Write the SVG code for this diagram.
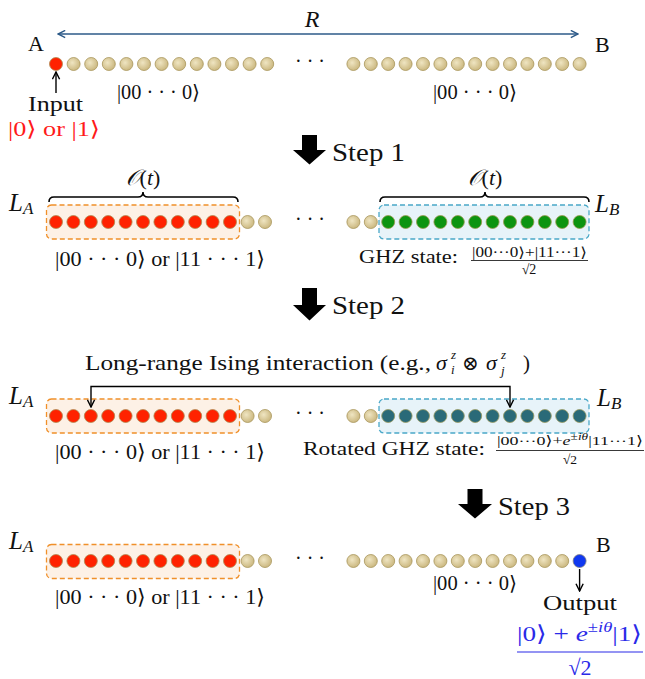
<svg xmlns="http://www.w3.org/2000/svg" width="645" height="679" viewBox="0 0 645 679">
<defs>
<radialGradient id="gTan" cx="0.4" cy="0.4" r="0.65">
<stop offset="0" stop-color="#efe5c2"/>
<stop offset="1" stop-color="#c9b57c"/>
</radialGradient>
<marker id="mR" viewBox="0 0 10 10" refX="9" refY="5" markerWidth="9" markerHeight="9" markerUnits="userSpaceOnUse" orient="auto-start-reverse">
<path d="M1,1 L9,5 L1,9" fill="none" stroke="#2d5a88" stroke-width="1.6"/>
</marker>
<marker id="mK" viewBox="0 0 10 10" refX="9" refY="5" markerWidth="9" markerHeight="9" markerUnits="userSpaceOnUse" orient="auto-start-reverse">
<path d="M1,1 L9,5 L1,9" fill="none" stroke="#000" stroke-width="1.6"/>
</marker>
</defs>
<style>
text{font-family:"Liberation Serif","DejaVu Serif",serif;fill:#111}
.it{font-style:italic}
.c{text-anchor:middle}
.tan{fill:url(#gTan);stroke:#a8955a;stroke-width:0.8}
.red{fill:#ff2200;stroke:#b08a50;stroke-width:0.8}
.grn{fill:#0c9410;stroke:#9a9a50;stroke-width:0.8}
.teal{fill:#2a6a78;stroke:#9a9a60;stroke-width:0.8}
.blu{fill:#1038f0;stroke:#808080;stroke-width:0.8}
.obox{fill:#fdf1e6;stroke:#f0902a;stroke-width:1.3;stroke-dasharray:5 3}
.bbox{fill:#e7f3f9;stroke:#4aa8c8;stroke-width:1.3;stroke-dasharray:5 3}
.br{fill:none;stroke:#000;stroke-width:1.6}
.con{fill:none;stroke:#000;stroke-width:1.4}
.step{fill:#000}
.bl{fill:#2a2ae8}
</style>

<g id="labels-top">
<text x="28" y="51" font-size="22">A</text>
<text x="595" y="52" font-size="22">B</text>
<text x="312" y="27" font-size="24" class="it c">R</text>
<text x="28" y="111" font-size="21" textLength="55" lengthAdjust="spacingAndGlyphs">Input</text>
<text x="8" y="136" font-size="21" style="fill:#ff1a1a" textLength="92" lengthAdjust="spacingAndGlyphs">|0⟩ or |1⟩</text>
<text x="117" y="99" font-size="20" textLength="83" lengthAdjust="spacingAndGlyphs">|00 · · · 0⟩</text>
<text x="433" y="99" font-size="20" textLength="84" lengthAdjust="spacingAndGlyphs">|00 · · · 0⟩</text>
<text x="310" y="68" font-size="20" class="c">· · ·</text>
</g>

<g id="row1">
<circle class="red" cx="56" cy="64" r="6.5"/>
<circle class="tan" cx="73.6" cy="64" r="6.5"/><circle class="tan" cx="91.2" cy="64" r="6.5"/><circle class="tan" cx="108.8" cy="64" r="6.5"/><circle class="tan" cx="126.4" cy="64" r="6.5"/><circle class="tan" cx="144" cy="64" r="6.5"/><circle class="tan" cx="161.6" cy="64" r="6.5"/><circle class="tan" cx="179.2" cy="64" r="6.5"/><circle class="tan" cx="196.8" cy="64" r="6.5"/><circle class="tan" cx="214.4" cy="64" r="6.5"/><circle class="tan" cx="232" cy="64" r="6.5"/><circle class="tan" cx="249.6" cy="64" r="6.5"/><circle class="tan" cx="267.2" cy="64" r="6.5"/>
<circle class="tan" cx="353.4" cy="64" r="6.5"/><circle class="tan" cx="370.8" cy="64" r="6.5"/><circle class="tan" cx="388.2" cy="64" r="6.5"/><circle class="tan" cx="405.6" cy="64" r="6.5"/><circle class="tan" cx="423" cy="64" r="6.5"/><circle class="tan" cx="440.4" cy="64" r="6.5"/><circle class="tan" cx="457.8" cy="64" r="6.5"/><circle class="tan" cx="475.2" cy="64" r="6.5"/><circle class="tan" cx="492.6" cy="64" r="6.5"/><circle class="tan" cx="510" cy="64" r="6.5"/><circle class="tan" cx="527.4" cy="64" r="6.5"/><circle class="tan" cx="544.8" cy="64" r="6.5"/><circle class="tan" cx="562.2" cy="64" r="6.5"/><circle class="tan" cx="579.6" cy="64" r="6.5"/>
</g>

<g id="step1">
<polygon class="step" points="302,135 317,135 317,150 326,150 309.5,164.5 293,150 302,150"/>
<text x="332" y="161" font-size="25" textLength="73" lengthAdjust="spacingAndGlyphs">Step 1</text>
</g>

<g id="row2">
<rect class="obox" x="46.5" y="205" width="193" height="34" rx="5"/>
<rect class="bbox" x="379" y="205" width="210" height="34" rx="5"/>
<path class="br" d="M49,202 Q49,197 54,197 H138 Q143,197 143,192 Q143,197 148,197 H233 Q238,197 238,202"/>
<path class="br" d="M380,202 Q380,197 385,197 H480 Q485,197 485,192 Q485,197 490,197 H584 Q589,197 589,202"/>
<text x="143" y="185" font-size="22" class="c"><tspan class="it">𝒪</tspan>(<tspan class="it">t</tspan>)</text>
<text x="485" y="185" font-size="22" class="c"><tspan class="it">𝒪</tspan>(<tspan class="it">t</tspan>)</text>
<text x="9" y="211" font-size="25" class="it">L<tspan font-size="17" dy="3">A</tspan></text>
<text x="595" y="212" font-size="25" class="it">L<tspan font-size="17" dy="3">B</tspan></text>
<circle class="red" cx="56" cy="222" r="6.5"/><circle class="red" cx="73.4" cy="222" r="6.5"/><circle class="red" cx="90.8" cy="222" r="6.5"/><circle class="red" cx="108.2" cy="222" r="6.5"/><circle class="red" cx="125.6" cy="222" r="6.5"/><circle class="red" cx="143" cy="222" r="6.5"/><circle class="red" cx="160.4" cy="222" r="6.5"/><circle class="red" cx="177.8" cy="222" r="6.5"/><circle class="red" cx="195.2" cy="222" r="6.5"/><circle class="red" cx="212.6" cy="222" r="6.5"/><circle class="red" cx="230" cy="222" r="6.5"/>
<circle class="tan" cx="247.6" cy="222" r="6.5"/><circle class="tan" cx="265" cy="222" r="6.5"/>
<text x="310" y="226" font-size="20" class="c">· · ·</text>
<circle class="tan" cx="353.4" cy="222" r="6.5"/><circle class="tan" cx="370.8" cy="222" r="6.5"/>
<circle class="grn" cx="388.2" cy="222" r="6.5"/><circle class="grn" cx="405.6" cy="222" r="6.5"/><circle class="grn" cx="423" cy="222" r="6.5"/><circle class="grn" cx="440.4" cy="222" r="6.5"/><circle class="grn" cx="457.8" cy="222" r="6.5"/><circle class="grn" cx="475.2" cy="222" r="6.5"/><circle class="grn" cx="492.6" cy="222" r="6.5"/><circle class="grn" cx="510" cy="222" r="6.5"/><circle class="grn" cx="527.4" cy="222" r="6.5"/><circle class="grn" cx="544.8" cy="222" r="6.5"/><circle class="grn" cx="562.2" cy="222" r="6.5"/><circle class="grn" cx="579.6" cy="222" r="6.5"/>
<text x="55" y="266" font-size="21" textLength="210" lengthAdjust="spacingAndGlyphs">|00 · · · 0⟩ or |11 · · · 1⟩</text>
<text x="359" y="263" font-size="18" textLength="99" lengthAdjust="spacingAndGlyphs">GHZ state:</text>
<text x="472" y="257" font-size="14" textLength="115" lengthAdjust="spacingAndGlyphs">|00···0⟩+|11···1⟩</text>
<line x1="471" y1="260.5" x2="588" y2="260.5" stroke="#222" stroke-width="0.9"/>
<text x="529" y="274" font-size="14" class="c">√2</text>
</g>

<g id="step2">
<polygon class="step" points="302,288 317,288 317,305 326,305 309.5,320.5 293,305 302,305"/>
<text x="332" y="314" font-size="25" textLength="73" lengthAdjust="spacingAndGlyphs">Step 2</text>
</g>

<g id="row3">
<text x="85" y="370" font-size="21" textLength="346" lengthAdjust="spacingAndGlyphs">Long-range Ising interaction (e.g.,</text>
<text x="436" y="370" font-size="22" class="it">σ</text>
<text x="451" y="359" font-size="13" class="it">z</text>
<text x="451" y="374" font-size="13" class="it">i</text>
<text x="462" y="370" font-size="20">⊗</text>
<text x="486" y="370" font-size="22" class="it">σ</text>
<text x="501" y="359" font-size="13" class="it">z</text>
<text x="501" y="375" font-size="13" class="it">j</text>
<text x="523" y="370" font-size="21">)</text>
<rect class="obox" x="46.5" y="399" width="193" height="34" rx="5"/>
<rect class="bbox" x="379" y="399" width="210" height="34" rx="5"/>
<text x="9" y="404" font-size="25" class="it">L<tspan font-size="17" dy="3">A</tspan></text>
<text x="597" y="406" font-size="25" class="it">L<tspan font-size="17" dy="3">B</tspan></text>
<circle class="red" cx="56" cy="416" r="6.5"/><circle class="red" cx="73.4" cy="416" r="6.5"/><circle class="red" cx="90.8" cy="416" r="6.5"/><circle class="red" cx="108.2" cy="416" r="6.5"/><circle class="red" cx="125.6" cy="416" r="6.5"/><circle class="red" cx="143" cy="416" r="6.5"/><circle class="red" cx="160.4" cy="416" r="6.5"/><circle class="red" cx="177.8" cy="416" r="6.5"/><circle class="red" cx="195.2" cy="416" r="6.5"/><circle class="red" cx="212.6" cy="416" r="6.5"/><circle class="red" cx="230" cy="416" r="6.5"/>
<circle class="tan" cx="247.6" cy="416" r="6.5"/><circle class="tan" cx="265" cy="416" r="6.5"/>
<text x="310" y="420" font-size="20" class="c">· · ·</text>
<circle class="tan" cx="353.4" cy="416" r="6.5"/><circle class="tan" cx="370.8" cy="416" r="6.5"/>
<circle class="teal" cx="388.2" cy="416" r="6.5"/><circle class="teal" cx="405.6" cy="416" r="6.5"/><circle class="teal" cx="423" cy="416" r="6.5"/><circle class="teal" cx="440.4" cy="416" r="6.5"/><circle class="teal" cx="457.8" cy="416" r="6.5"/><circle class="teal" cx="475.2" cy="416" r="6.5"/><circle class="teal" cx="492.6" cy="416" r="6.5"/><circle class="teal" cx="510" cy="416" r="6.5"/><circle class="teal" cx="527.4" cy="416" r="6.5"/><circle class="teal" cx="544.8" cy="416" r="6.5"/><circle class="teal" cx="562.2" cy="416" r="6.5"/><circle class="teal" cx="579.6" cy="416" r="6.5"/>
<text x="55" y="459" font-size="21" textLength="210" lengthAdjust="spacingAndGlyphs">|00 · · · 0⟩ or |11 · · · 1⟩</text>
<text x="303" y="455" font-size="18" textLength="182" lengthAdjust="spacingAndGlyphs">Rotated GHZ state:</text>
<text x="497" y="445" font-size="13.5" textLength="146" lengthAdjust="spacingAndGlyphs">|00···0⟩+<tspan class="it">e</tspan><tspan font-size="10" dy="-5">±<tspan class="it">iθ</tspan></tspan><tspan dy="5">|11···1⟩</tspan></text>
<line x1="496" y1="450.5" x2="644" y2="450.5" stroke="#222" stroke-width="0.9"/>
<text x="570" y="464" font-size="13.5" class="c">√2</text>
</g>

<g id="step3">
<polygon class="step" points="467.5,489 482.5,489 482.5,504 492,504 475,518.5 458,504 467.5,504"/>
<text x="498" y="515" font-size="25" textLength="72" lengthAdjust="spacingAndGlyphs">Step 3</text>
</g>

<g id="row4">
<rect class="obox" x="46.5" y="544.5" width="193" height="34" rx="5"/>
<text x="9" y="549" font-size="25" class="it">L<tspan font-size="17" dy="3">A</tspan></text>
<text x="596" y="552" font-size="22">B</text>
<circle class="red" cx="56" cy="561" r="6.5"/><circle class="red" cx="73.4" cy="561" r="6.5"/><circle class="red" cx="90.8" cy="561" r="6.5"/><circle class="red" cx="108.2" cy="561" r="6.5"/><circle class="red" cx="125.6" cy="561" r="6.5"/><circle class="red" cx="143" cy="561" r="6.5"/><circle class="red" cx="160.4" cy="561" r="6.5"/><circle class="red" cx="177.8" cy="561" r="6.5"/><circle class="red" cx="195.2" cy="561" r="6.5"/><circle class="red" cx="212.6" cy="561" r="6.5"/><circle class="red" cx="230" cy="561" r="6.5"/>
<circle class="tan" cx="247.6" cy="561" r="6.5"/><circle class="tan" cx="265" cy="561" r="6.5"/>
<text x="310" y="565" font-size="20" class="c">· · ·</text>
<circle class="tan" cx="353.4" cy="561" r="6.5"/><circle class="tan" cx="370.8" cy="561" r="6.5"/><circle class="tan" cx="388.2" cy="561" r="6.5"/><circle class="tan" cx="405.6" cy="561" r="6.5"/><circle class="tan" cx="423" cy="561" r="6.5"/><circle class="tan" cx="440.4" cy="561" r="6.5"/><circle class="tan" cx="457.8" cy="561" r="6.5"/><circle class="tan" cx="475.2" cy="561" r="6.5"/><circle class="tan" cx="492.6" cy="561" r="6.5"/><circle class="tan" cx="510" cy="561" r="6.5"/><circle class="tan" cx="527.4" cy="561" r="6.5"/><circle class="tan" cx="544.8" cy="561" r="6.5"/><circle class="tan" cx="562.2" cy="561" r="6.5"/>
<circle class="blu" cx="579.6" cy="561" r="6.5"/>
<text x="433" y="590" font-size="20" textLength="84" lengthAdjust="spacingAndGlyphs">|00 · · · 0⟩</text>
<text x="55" y="604" font-size="21" textLength="210" lengthAdjust="spacingAndGlyphs">|00 · · · 0⟩ or |11 · · · 1⟩</text>
<text x="543" y="610" font-size="21" textLength="74" lengthAdjust="spacingAndGlyphs">Output</text>
<text x="517" y="641" font-size="22" class="bl" textLength="125" lengthAdjust="spacingAndGlyphs">|0⟩ + <tspan class="it bl">e</tspan><tspan font-size="15" dy="-9" class="bl">±<tspan class="it bl">iθ</tspan></tspan><tspan dy="9" class="bl">|1⟩</tspan></text>
<line x1="517" y1="652" x2="643" y2="652" stroke="#2a2ae8" stroke-width="1.2"/>
<text x="580" y="675" font-size="22" class="c bl">√2</text>
</g>

<g id="connectors">
<line x1="58" y1="34" x2="578" y2="34" stroke="#2d5a88" stroke-width="1.6" marker-start="url(#mR)" marker-end="url(#mR)"/>
<line class="con" x1="56" y1="93" x2="56" y2="72" marker-end="url(#mK)"/>
<path class="con" d="M91,407 V386.5 H510 V407" marker-start="url(#mK)" marker-end="url(#mK)"/>
<line class="con" x1="579.6" y1="569" x2="579.6" y2="591" marker-end="url(#mK)"/>
</g>
</svg>
